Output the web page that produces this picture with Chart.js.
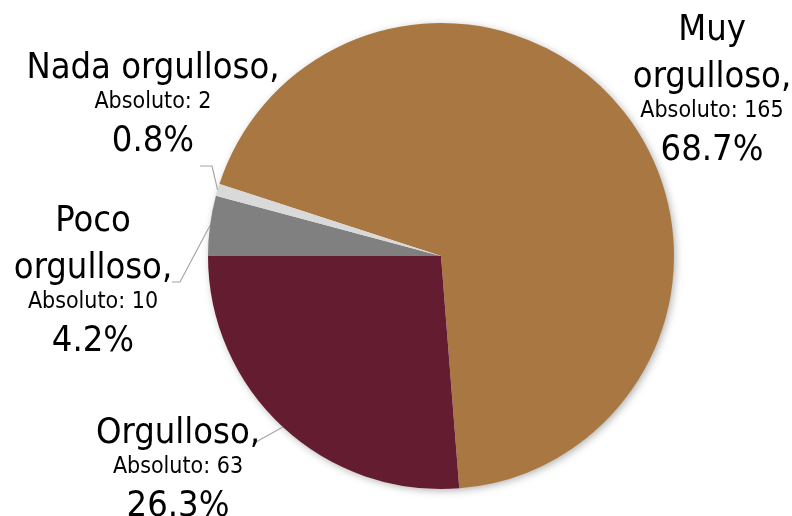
<!DOCTYPE html>
<html>
<head>
<meta charset="utf-8">
<script src="https://cdn.jsdelivr.net/npm/chart.js@4.4.1/dist/chart.umd.min.js"></script>
<style>
    html, body { margin: 0; padding: 0; background: #ffffff; }
    #wrap { width: 792px; height: 516px; }
</style>
</head>
<body>
<div id="wrap"><canvas id="orgulloChart" width="792" height="516"></canvas></div>
<script>
// Datos del gráfico
const categorias = ["Muy orgulloso", "Orgulloso", "Poco orgulloso", "Nada orgulloso"];
const absolutos = [165, 63, 10, 2];
const porcentajes = [68.7, 26.3, 4.2, 0.8];
const colores = ["#A97842", "#641C31", "#808080", "#D9D9D9"];

// Líneas de texto de cada etiqueta (la categoría partida como en el original)
const lineasCategoria = [["Muy", "orgulloso,"], ["Orgulloso,"], ["Poco", "orgulloso,"], ["Nada orgulloso,"]];

const FUENTE = "'DejaVu Sans Condensed', 'DejaVu Sans', sans-serif";

// posición de cada etiqueta: centro x, primera línea base y, y el codo de la línea guía
const posEtiquetas = [
    { x: 712, y: 40, guia: null },
    { x: 178, y: 443, guia: { fin: [256, 442] } },
    { x: 93, y: 231, guia: { fin: [172, 282], codo: [180, 282] } },
    { x: 153, y: 78, guia: { fin: [200, 166], codo: [212, 166] } }
];

const etiquetasPlugin = {
    id: "etiquetas",
    beforeDatasetsDraw(chart) {
        const ctx = chart.ctx;
        ctx.save();
        ctx.shadowColor = "rgba(0, 0, 0, 0.35)";
        ctx.shadowBlur = 8;
        ctx.shadowOffsetX = 2;
        ctx.shadowOffsetY = 2;
        const arc = chart.getDatasetMeta(0).data[0];
        ctx.beginPath();
        ctx.arc(arc.x, arc.y, arc.outerRadius - 1, 0, Math.PI * 2);
        ctx.fillStyle = "#ffffff";
        ctx.fill();
        ctx.restore();
    },
    afterDraw(chart) {
        const ctx = chart.ctx;
        const meta = chart.getDatasetMeta(0);
        ctx.save();
        meta.data.forEach((arc, i) => {
            const p = posEtiquetas[i];
            // línea guía
            if (p.guia) {
                const mid = (arc.startAngle + arc.endAngle) / 2;
                const ex = arc.x + Math.cos(mid) * arc.outerRadius;
                const ey = arc.y + Math.sin(mid) * arc.outerRadius;
                ctx.beginPath();
                ctx.strokeStyle = "#A6A6A6";
                ctx.lineWidth = 1.2;
                ctx.moveTo(p.guia.fin[0], p.guia.fin[1]);
                if (p.guia.codo) ctx.lineTo(p.guia.codo[0], p.guia.codo[1]);
                ctx.lineTo(ex, ey);
                ctx.stroke();
            }
            // texto
            ctx.fillStyle = "#000000";
            ctx.textAlign = "center";
            ctx.textBaseline = "alphabetic";
            let y = p.y;
            ctx.font = "36px " + FUENTE;
            lineasCategoria[i].forEach((t, k) => {
                if (k > 0) y += 47;
                ctx.fillText(t, p.x, y);
            });
            y += 30;
            ctx.font = "23px " + FUENTE;
            ctx.fillText("Absoluto: " + absolutos[i], p.x, y);
            y += 43;
            ctx.font = "36px " + FUENTE;
            ctx.fillText(porcentajes[i].toFixed(1) + "%", p.x, y);
        });
        ctx.restore();
    }
};

new Chart(document.getElementById("orgulloChart").getContext("2d"), {
    type: "pie",
    data: {
        labels: categorias,
        datasets: [{
            data: absolutos,
            backgroundColor: colores,
            borderWidth: 0
        }]
    },
    options: {
        responsive: false,
        animation: false,
        rotation: 288,
        layout: { padding: { left: 208, right: 118, top: 23, bottom: 27 } },
        plugins: {
            legend: { display: false },
            tooltip: { enabled: false }
        }
    },
    plugins: [etiquetasPlugin]
});
</script>
</body>
</html>
